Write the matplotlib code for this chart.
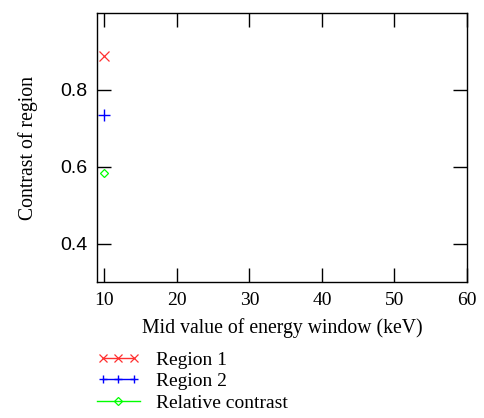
import matplotlib
matplotlib.use("Agg")
import matplotlib.pyplot as plt
from matplotlib.legend_handler import HandlerLine2D

# energy window mid value (keV) and contrast values
energy = [10]
region1 = [0.889]
region2 = [0.735]
relative = [0.584]

x_ticks = [10, 20, 30, 40, 50, 60]
y_ticks = [0.4, 0.6, 0.8]

serif = "Liberation Serif"
sans = "Liberation Sans"

fig = plt.figure(figsize=(4.85, 4.18), dpi=100)
ax = fig.add_axes([97 / 485, 1 - 282 / 418, 370 / 485, 269 / 418])

h1, = ax.plot(energy, region1, color="#ff3030", marker="x", markersize=7.5,
              markeredgewidth=0.9, linestyle="-", linewidth=1.0, label="Region 1")
h2, = ax.plot(energy, region2, color="#0000ff", marker="+", markersize=8,
              markeredgewidth=1.0, linestyle="-", linewidth=1.0, label="Region 2")
h3, = ax.plot(energy, relative, color="#00ff00", marker="D", markersize=4.5,
              markerfacecolor="none", markeredgewidth=0.9, linestyle="-",
              linewidth=1.0, label="Relative contrast")

ax.set_xlim(9, 60)
ax.set_ylim(0.3, 1.0)
ax.set_xticks(x_ticks)
ax.set_yticks(y_ticks)
ax.set_xticklabels([str(t) for t in x_ticks], family=serif, fontsize=14)
ax.set_yticklabels([str(t) for t in y_ticks], family=sans, fontsize=14)
ax.tick_params(direction="in", length=10, width=1, top=True, right=True, pad=7)
for s in ax.spines.values():
    s.set_linewidth(1.0)

ax.set_xlabel("Mid value of energy window (keV)", family=serif, fontsize=14.2, labelpad=7)
ax.set_ylabel("Contrast of region", family=serif, fontsize=14.2, labelpad=16)

leg = fig.legend(handles=[h1, h2, h3], loc="upper left",
                 bbox_to_anchor=(97 / 485, 1 - 351 / 418), frameon=False,
                 borderpad=0, borderaxespad=0, markerscale=0.8,
                 numpoints=3, handlelength=2.2, handletextpad=0.85,
                 labelspacing=0.2, prop={"family": serif, "size": 14},
                 handler_map={h3: HandlerLine2D(numpoints=1)})

fig.savefig("out.png", dpi=100)
